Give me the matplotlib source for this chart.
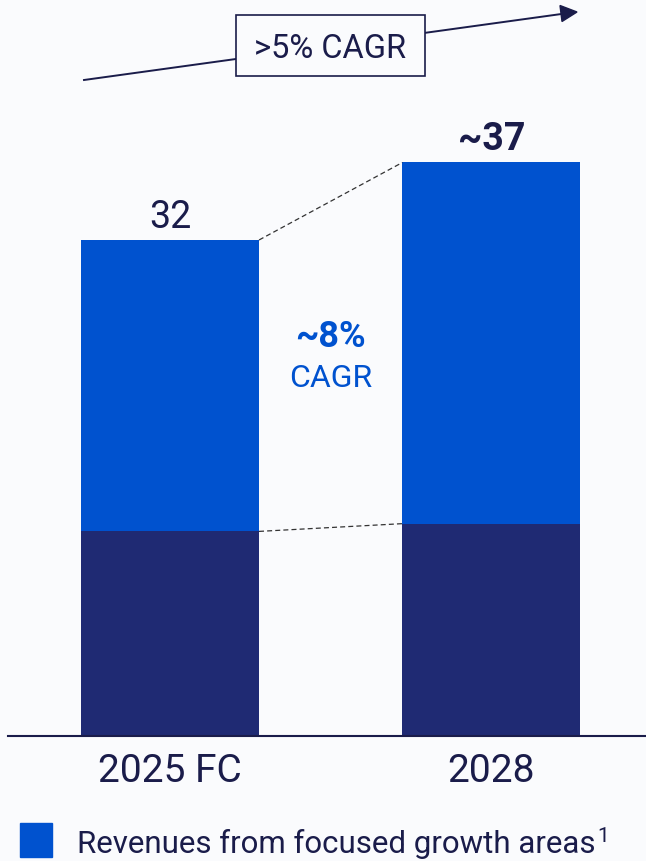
import matplotlib
matplotlib.use("Agg")
import matplotlib.pyplot as plt
from matplotlib.patches import Rectangle

categories = ["2025 FC", "2028"]
base_values = [13.2, 13.7]
growth_values = [18.8, 23.3]
total_labels = ["32", "~37"]
legend_label = "Revenues from focused growth areas"
legend_note = "1"

BG = "#FAFBFD"
BLUE = "#0052CF"
NAVY = "#1F2A73"
TEXT = "#1A1C4A"
plt.rcParams['font.family'] = ['Roboto', 'DejaVu Sans']

W, H = 646, 861
fig = plt.figure(figsize=(W/100, H/100), dpi=100, facecolor=BG)

def fx(px): return px / W
def fy(py): return 1 - py / H

base_px = 736
ppu = 15.5
ax = fig.add_axes([fx(8), fy(base_px), (W - 8) / W, base_px / H])
ax.set_facecolor(BG)
x = [0, 1]
bw = 0.554
ax.bar(x, base_values, width=bw, color=NAVY, zorder=2)
ax.bar(x, growth_values, width=bw, bottom=base_values, color=BLUE, zorder=2)
ax.set_xlim(-0.504, 1.481)
ax.set_ylim(0, base_px / ppu)
for s in ["top", "right", "left"]:
    ax.spines[s].set_visible(False)
ax.spines["bottom"].set_color(TEXT)
ax.spines["bottom"].set_linewidth(1.5)
ax.set_yticks([])
ax.set_xticks(x)
ax.set_xticklabels(categories, fontsize=28, color=TEXT)
ax.tick_params(axis='x', length=0, pad=46 * 0.72)
for t in ax.get_xticklabels():
    t.set_va('baseline')

totals = [b + g for b, g in zip(base_values, growth_values)]
ax.text(0, (736 - 228) / ppu, total_labels[0], ha='center', va='baseline', fontsize=27, color=TEXT)
ax.text(1, (736 - 150) / ppu, total_labels[1], ha='center', va='baseline', fontsize=27, color=TEXT, fontweight='bold')

# dashed connectors
ax.plot([bw/2, 1 - bw/2], [totals[0], totals[1]], ls=(0, (4, 2.5)), color="#333333", lw=0.9, zorder=3)
ax.plot([bw/2, 1 - bw/2], [base_values[0], base_values[1]], ls=(0, (4, 2.5)), color="#333333", lw=0.9, zorder=3)

# inner CAGR
ax.text(0.5, (736 - 347) / ppu, "~8%", ha='center', va='baseline', fontsize=26, color=BLUE, fontweight='bold')
ax.text(0.5, (736 - 387) / ppu, "CAGR", ha='center', va='baseline', fontsize=23, color=BLUE)

# top arrow
fig.add_artist(plt.Line2D([fx(84), fx(565)], [fy(80), fy(13.5)], color=TEXT, lw=1.4))
fig.patches.append(plt.Polygon([[fx(560), fy(5.5)], [fx(577), fy(12)], [fx(562), fy(21.5)]],
                               closed=True, transform=fig.transFigure, color=TEXT, figure=fig))
box = Rectangle((fx(236), fy(76)), fx(425) - fx(236), fy(15) - fy(76), transform=fig.transFigure,
                facecolor=BG, edgecolor=TEXT, lw=1.2, zorder=5)
fig.patches.append(box)
fig.text(fx(330.5), fy(58), ">5% CAGR", ha='center', va='baseline', fontsize=23.5, color=TEXT, zorder=6)

# legend
fig.patches.append(Rectangle((fx(20), fy(857)), fx(52) - fx(20), fy(823) - fy(857),
                             transform=fig.transFigure, color=BLUE))
lt = fig.text(fx(77), fy(853), legend_label, ha='left', va='baseline', fontsize=22.5, color=TEXT)
fig.canvas.draw()
ext = lt.get_window_extent()
fig.text((ext.x1 + 2) / W, fy(842), legend_note, ha='left', va='baseline', fontsize=15, color=TEXT)

fig.savefig("out.png", dpi=100, facecolor=BG)
